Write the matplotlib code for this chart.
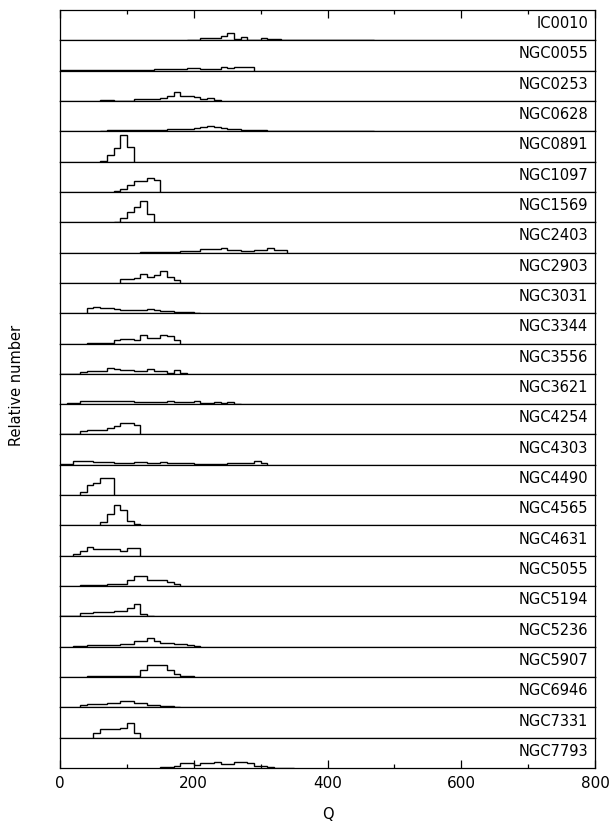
import matplotlib
matplotlib.use("Agg")
import matplotlib.pyplot as plt
from matplotlib.ticker import MultipleLocator
import numpy as np

plt.rcParams['font.family'] = ['DejaVu Sans']

bin_width = 10

galaxies = ['IC0010', 'NGC0055', 'NGC0253', 'NGC0628', 'NGC0891', 'NGC1097',
            'NGC1569', 'NGC2403', 'NGC2903', 'NGC3031', 'NGC3344', 'NGC3556',
            'NGC3621', 'NGC4254', 'NGC4303', 'NGC4490', 'NGC4565', 'NGC4631',
            'NGC5055', 'NGC5194', 'NGC5236', 'NGC5907', 'NGC6946', 'NGC7331',
            'NGC7793']

# left edge (in Q) of the first bin of each histogram
q_first = [190, 0, 60, 60, 60, 80,
           80, 120, 90, 40, 40, 0,
           10, 0, 0, 30, 60, 20,
           30, 0, 20, 40, 30, 50,
           150]

ic0010 = [2, 2, 7, 7, 8, 13, 23, 5, 10, 2, 2, 7, 4, 3, 2, 2, 1.5, 1, 1, 1,
          1, 1, 1, 1, 1, 1, 1, 1]
ngc0055 = [1, 1, 1, 1, 1, 1, 1, 1, 1, 1, 2, 3, 3, 3, 5, 5, 6, 6, 5, 8, 8, 6,
           6, 6, 12, 7, 12, 12, 12]
ngc0253 = [2, 2, 1, 1, 1, 5, 5, 5, 5, 10, 15, 27, 15, 14, 13, 5, 8, 2]
ngc0628 = [1, 4, 4, 3, 3, 3, 3, 3, 3, 3, 6, 6, 6, 6, 10, 14, 16, 12, 10, 8,
           6, 5, 3, 3, 3, 2, 2, 2, 1.5, 1.5, 1, 1, 1, 1, 1, 1, 1, 1, 1, 1, 1]
ngc0891 = [3, 20, 42, 80, 45]
ngc1097 = [2, 10, 20, 32, 32, 42, 35]
ngc1569 = [2, 14, 30, 45, 65, 25]
ngc2403 = [1, 1, 1, 3, 3, 3, 6, 6, 6, 10, 10, 10, 14, 9, 9, 6, 4, 9, 9, 14,
           8, 8]
ngc2903 = [12, 12, 15, 27, 18, 25, 35, 18, 10]
ngc3031 = [17, 20, 17, 15, 14, 10, 10, 10, 10, 12, 10, 8, 7, 5, 4, 3, 1]
ngc3344 = [2, 1, 1, 1, 10, 15, 15, 12, 25, 18, 18, 25, 22, 12]
ngc3556 = [1, 1, 1, 5, 10, 10, 10, 18, 15, 12, 12, 8, 8, 15, 10, 10, 3, 12, 2]
ngc3621 = [3, 3, 8, 8, 9, 10, 10, 10, 10, 10, 7, 7, 6, 5, 5, 10, 5, 5, 5, 10,
           4, 4, 7, 2, 5, 1]
ngc4254 = [2, 2, 2, 10, 13, 13, 13, 20, 25, 33, 33, 28]
ngc4303 = [3, 3, 12, 10, 10, 9, 9, 8, 6, 6, 6, 7, 7, 5, 5, 8, 4, 4, 5, 5, 3,
           2, 2, 2, 2, 5, 5, 6, 6, 10, 4]
ngc4490 = [8, 30, 35, 52, 52]
ngc4565 = [10, 35, 60, 45, 12, 3]
ngc4631 = [5, 15, 25, 20, 20, 20, 20, 15, 22, 22]
ngc5055 = [2, 2, 2, 4, 5, 5, 6, 18, 30, 30, 18, 18, 18, 12, 5]
ngc5194 = [2, 2, 2, 10, 11, 12, 13, 14, 17, 17, 25, 38, 8, 2]
ngc5236 = [3, 3, 5, 5, 5, 5, 5, 8, 8, 17, 17, 27, 18, 10, 10, 7, 7, 5, 2]
ngc5907 = [3, 2, 2, 2, 2, 2, 2, 2, 20, 37, 37, 37, 20, 10, 4, 2]
ngc6946 = [6, 10, 10, 10, 13, 13, 18, 18, 12, 12, 8, 8, 4, 4, 2]
ngc7331 = [15, 25, 26, 27, 28, 45, 15]
ngc7793 = [3, 3, 5, 15, 15, 10, 15, 15, 18, 12, 12, 17, 17, 15, 5, 7, 3, 1, 1, 1]

counts = [ic0010, ngc0055, ngc0253, ngc0628, ngc0891, ngc1097,
          ngc1569, ngc2403, ngc2903, ngc3031, ngc3344, ngc3556,
          ngc3621, ngc4254, ngc4303, ngc4490, ngc4565, ngc4631,
          ngc5055, ngc5194, ngc5236, ngc5907, ngc6946, ngc7331,
          ngc7793]

fig = plt.figure(figsize=(6.1, 8.22), dpi=100)
gs = fig.add_gridspec(len(galaxies), 1, left=60/610, right=595/610,
                      top=1 - 10/822, bottom=1 - 768/822, hspace=0)

axes = []
for i, (name, start, vals) in enumerate(zip(galaxies, q_first, counts)):
    ax = fig.add_subplot(gs[i, 0])
    edges = start + bin_width * np.arange(len(vals) + 1)
    ax.stairs(vals, edges, baseline=0, color='black', lw=1.0)
    ax.set_xlim(0, 800)
    ax.set_ylim(0, 91)
    ax.set_yticks([])
    for sp in ax.spines.values():
        sp.set_linewidth(0.9)
    ax.text(0.987, 0.55, name, transform=ax.transAxes, ha='right',
            va='center', fontsize=10.5)
    ax.xaxis.set_major_locator(MultipleLocator(200))
    ax.xaxis.set_minor_locator(MultipleLocator(100))
    ax.tick_params(axis='x', which='both', bottom=False, top=False,
                   labelbottom=False, direction='in')
    axes.append(ax)

axes[0].tick_params(axis='x', which='both', top=True)
axes[0].tick_params(axis='x', which='major', length=6, width=0.9)
axes[0].tick_params(axis='x', which='minor', length=3, width=0.9)

axes[-1].tick_params(axis='x', which='both', bottom=True, labelbottom=True)
axes[-1].tick_params(axis='x', which='major', length=6, width=0.9,
                     labelsize=11, pad=6)
axes[-1].tick_params(axis='x', which='minor', length=3, width=0.9)

fig.text((60 + 595) / 2 / 610, 1 - 814/822, 'Q', ha='center', va='center',
         fontsize=10.5)
fig.text(17/610, 1 - 385/822, 'Relative number', rotation=90,
         ha='center', va='center', fontsize=10.5)

fig.savefig('out.png', dpi=100, facecolor='white')
